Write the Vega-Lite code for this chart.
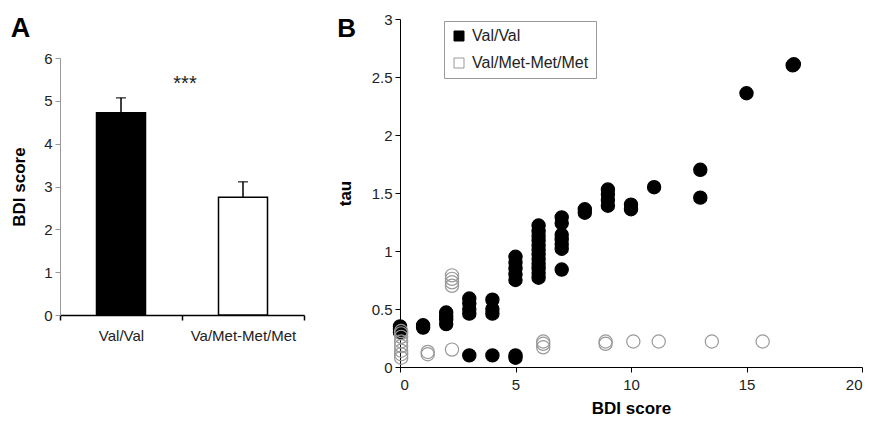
{
  "$schema": "https://vega.github.io/schema/vega-lite/v6.json",
  "background": "white",
  "padding": {"left": 10, "top": 12, "right": 5, "bottom": 0},
  "config": {
    "font": "Liberation Sans",
    "view": {"stroke": null},
    "axis": {"grid": false, "domainColor": "#000", "tickColor": "#000", "labelColor": "#222", "labelFontSize": 15, "titleFontSize": 17, "titleFontWeight": "bold", "titleColor": "#000", "tickSize": 5, "labelFont": "Liberation Sans", "titleFont": "Liberation Sans"},
    "title": {"fontSize": 26, "fontWeight": "bold", "anchor": "start", "frame": "bounds", "color": "#000", "font": "Liberation Sans"},
    "legend": {"orient": "none", "legendX": 44, "legendY": 2, "strokeColor": "#999", "padding": 7, "symbolType": "square", "symbolSize": 100, "symbolStrokeWidth": 1, "labelFontSize": 16, "labelColor": "#222", "labelOffset": 5, "rowPadding": 11, "labelFont": "Liberation Sans"}
  },
  "spacing": 31,
  "resolve": {
    "scale": {"fill": "independent", "stroke": "independent", "fillOpacity": "independent"},
    "legend": {"fill": "independent", "stroke": "independent", "fillOpacity": "independent"}
  },
  "hconcat": [
    {"vconcat": [
      {"width": 244, "height": 1, "data": {"values": []}, "mark": "point", "encoding": {}},
      {
        "title": {"text": "A", "offset": -11, "dy": -19, "fontSize": 27},
        "width": 244,
        "height": 257,
        "data": {"values": [
          {"genotype": "Val/Val", "mean": 4.72, "upper": 5.07},
          {"genotype": "Va/Met-Met/Met", "mean": 2.75, "upper": 3.11}
        ]},
        "encoding": {
          "x": {"field": "genotype", "type": "nominal", "sort": null, "scale": {"domain": ["Val/Val", "Va/Met-Met/Met"], "paddingInner": 0, "paddingOuter": 0}, "axis": {"title": null, "labelAngle": 0, "tickBand": "extent", "labelPadding": 8, "domainWidth": 1.5, "tickWidth": 1.5}}
        },
        "layer": [
          {"mark": {"type": "bar", "width": 49, "stroke": "#000", "strokeWidth": 1.5},
           "encoding": {
             "y": {"field": "mean", "type": "quantitative", "title": "BDI score", "scale": {"domain": [0, 6]}, "axis": {"values": [0, 1, 2, 3, 4, 5, 6], "labelPadding": 3, "titlePadding": 15, "domainColor": "#999", "tickColor": "#999"}},
             "fill": {"field": "genotype", "type": "nominal", "scale": {"domain": ["Val/Val", "Va/Met-Met/Met"], "range": ["#000", "#fff"]}, "legend": null}
           }},
          {"mark": {"type": "rule", "color": "#000", "strokeWidth": 1.5},
           "encoding": {"y": {"field": "mean", "type": "quantitative", "title": "BDI score"}, "y2": {"field": "upper"}}},
          {"mark": {"type": "tick", "orient": "horizontal", "size": 10, "thickness": 1.5, "color": "#000"},
           "encoding": {"y": {"field": "upper", "type": "quantitative", "title": "BDI score"}}},
          {"data": {"values": [{"genotype": "Val/Val", "y": 5.4, "label": "***"}]},
           "mark": {"type": "text", "fontSize": 20, "dx": 3, "color": "#222"},
           "encoding": {
             "x": {"field": "genotype", "type": "nominal", "sort": null, "bandPosition": 1},
             "y": {"field": "y", "type": "quantitative", "title": "BDI score"},
             "text": {"field": "label"}
           }}
        ]
      }
    ], "spacing": -5},
    {
      "title": {"text": "B", "offset": -30, "dx": 1},
      "width": 462,
      "height": 348,
      "data": {"values": [
        {"g": "Val/Val", "bdi": 0, "tau": 0.30},
        {"g": "Val/Val", "bdi": 0, "tau": 0.33},
        {"g": "Val/Val", "bdi": 0, "tau": 0.35},
        {"g": "Val/Val", "bdi": 1, "tau": 0.34},
        {"g": "Val/Val", "bdi": 1, "tau": 0.36},
        {"g": "Val/Val", "bdi": 2, "tau": 0.37},
        {"g": "Val/Val", "bdi": 2, "tau": 0.41},
        {"g": "Val/Val", "bdi": 2, "tau": 0.44},
        {"g": "Val/Val", "bdi": 2, "tau": 0.47},
        {"g": "Val/Val", "bdi": 3, "tau": 0.10},
        {"g": "Val/Val", "bdi": 3, "tau": 0.46},
        {"g": "Val/Val", "bdi": 3, "tau": 0.50},
        {"g": "Val/Val", "bdi": 3, "tau": 0.55},
        {"g": "Val/Val", "bdi": 3, "tau": 0.59},
        {"g": "Val/Val", "bdi": 4, "tau": 0.10},
        {"g": "Val/Val", "bdi": 4, "tau": 0.46},
        {"g": "Val/Val", "bdi": 4, "tau": 0.50},
        {"g": "Val/Val", "bdi": 4, "tau": 0.58},
        {"g": "Val/Val", "bdi": 5, "tau": 0.08},
        {"g": "Val/Val", "bdi": 5, "tau": 0.10},
        {"g": "Val/Val", "bdi": 5, "tau": 0.75},
        {"g": "Val/Val", "bdi": 5, "tau": 0.80},
        {"g": "Val/Val", "bdi": 5, "tau": 0.85},
        {"g": "Val/Val", "bdi": 5, "tau": 0.90},
        {"g": "Val/Val", "bdi": 5, "tau": 0.95},
        {"g": "Val/Val", "bdi": 6, "tau": 0.77},
        {"g": "Val/Val", "bdi": 6, "tau": 0.81},
        {"g": "Val/Val", "bdi": 6, "tau": 0.85},
        {"g": "Val/Val", "bdi": 6, "tau": 0.89},
        {"g": "Val/Val", "bdi": 6, "tau": 0.93},
        {"g": "Val/Val", "bdi": 6, "tau": 0.97},
        {"g": "Val/Val", "bdi": 6, "tau": 1.01},
        {"g": "Val/Val", "bdi": 6, "tau": 1.05},
        {"g": "Val/Val", "bdi": 6, "tau": 1.09},
        {"g": "Val/Val", "bdi": 6, "tau": 1.13},
        {"g": "Val/Val", "bdi": 6, "tau": 1.17},
        {"g": "Val/Val", "bdi": 6, "tau": 1.22},
        {"g": "Val/Val", "bdi": 7, "tau": 0.84},
        {"g": "Val/Val", "bdi": 7, "tau": 1.02},
        {"g": "Val/Val", "bdi": 7, "tau": 1.06},
        {"g": "Val/Val", "bdi": 7, "tau": 1.10},
        {"g": "Val/Val", "bdi": 7, "tau": 1.14},
        {"g": "Val/Val", "bdi": 7, "tau": 1.24},
        {"g": "Val/Val", "bdi": 7, "tau": 1.29},
        {"g": "Val/Val", "bdi": 8, "tau": 1.33},
        {"g": "Val/Val", "bdi": 8, "tau": 1.36},
        {"g": "Val/Val", "bdi": 9, "tau": 1.39},
        {"g": "Val/Val", "bdi": 9, "tau": 1.44},
        {"g": "Val/Val", "bdi": 9, "tau": 1.49},
        {"g": "Val/Val", "bdi": 9, "tau": 1.53},
        {"g": "Val/Val", "bdi": 10, "tau": 1.36},
        {"g": "Val/Val", "bdi": 10, "tau": 1.40},
        {"g": "Val/Val", "bdi": 11, "tau": 1.55},
        {"g": "Val/Val", "bdi": 13, "tau": 1.46},
        {"g": "Val/Val", "bdi": 13, "tau": 1.70},
        {"g": "Val/Val", "bdi": 15, "tau": 2.36},
        {"g": "Val/Val", "bdi": 17, "tau": 2.60},
        {"g": "Val/Val", "bdi": 17.05, "tau": 2.61},
        {"g": "Val/Met-Met/Met", "bdi": 0.05, "tau": 0.08},
        {"g": "Val/Met-Met/Met", "bdi": 0.05, "tau": 0.11},
        {"g": "Val/Met-Met/Met", "bdi": 0.05, "tau": 0.14},
        {"g": "Val/Met-Met/Met", "bdi": 0.05, "tau": 0.18},
        {"g": "Val/Met-Met/Met", "bdi": 0.05, "tau": 0.22},
        {"g": "Val/Met-Met/Met", "bdi": 0.05, "tau": 0.26},
        {"g": "Val/Met-Met/Met", "bdi": 0.05, "tau": 0.29},
        {"g": "Val/Met-Met/Met", "bdi": 0.05, "tau": 0.31},
        {"g": "Val/Met-Met/Met", "bdi": 1.2, "tau": 0.11},
        {"g": "Val/Met-Met/Met", "bdi": 1.2, "tau": 0.13},
        {"g": "Val/Met-Met/Met", "bdi": 2.25, "tau": 0.15},
        {"g": "Val/Met-Met/Met", "bdi": 2.25, "tau": 0.70},
        {"g": "Val/Met-Met/Met", "bdi": 2.25, "tau": 0.73},
        {"g": "Val/Met-Met/Met", "bdi": 2.25, "tau": 0.76},
        {"g": "Val/Met-Met/Met", "bdi": 2.25, "tau": 0.79},
        {"g": "Val/Met-Met/Met", "bdi": 6.2, "tau": 0.17},
        {"g": "Val/Met-Met/Met", "bdi": 6.2, "tau": 0.20},
        {"g": "Val/Met-Met/Met", "bdi": 6.2, "tau": 0.22},
        {"g": "Val/Met-Met/Met", "bdi": 8.9, "tau": 0.20},
        {"g": "Val/Met-Met/Met", "bdi": 8.9, "tau": 0.22},
        {"g": "Val/Met-Met/Met", "bdi": 10.1, "tau": 0.22},
        {"g": "Val/Met-Met/Met", "bdi": 11.2, "tau": 0.22},
        {"g": "Val/Met-Met/Met", "bdi": 13.5, "tau": 0.22},
        {"g": "Val/Met-Met/Met", "bdi": 15.7, "tau": 0.22}
      ]},
      "mark": {"type": "point", "shape": "circle", "size": 175, "strokeWidth": 1.2, "filled": true, "opacity": 1},
      "encoding": {
        "x": {"field": "bdi", "type": "quantitative", "title": "BDI score", "scale": {"domain": [0, 20]}, "axis": {"values": [0, 5, 10, 15, 20], "labelPadding": 5, "titlePadding": 8}},
        "y": {"field": "tau", "type": "quantitative", "title": "tau", "scale": {"domain": [0, 3]}, "axis": {"values": [0, 0.5, 1, 1.5, 2, 2.5, 3], "format": "~g", "labelPadding": 3, "titlePadding": 17}},
        "fill": {"field": "g", "type": "nominal", "title": null, "scale": {"domain": ["Val/Val", "Val/Met-Met/Met"], "range": ["#000", "#fff"]}},
        "fillOpacity": {"field": "g", "type": "nominal", "title": null, "scale": {"domain": ["Val/Val", "Val/Met-Met/Met"], "range": [1, 0]}},
        "stroke": {"field": "g", "type": "nominal", "title": null, "scale": {"domain": ["Val/Val", "Val/Met-Met/Met"], "range": ["#000", "#999"]}}
      }
    }
  ]
}
